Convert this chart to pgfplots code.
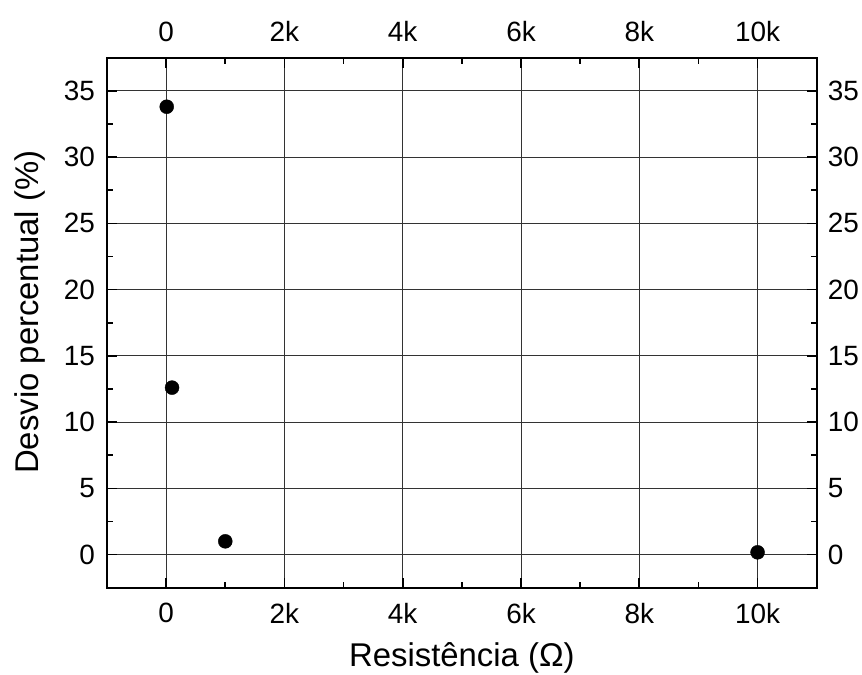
\documentclass[border=0pt]{standalone}
\usepackage{pgfplots}
\pgfplotsset{compat=1.18}
\usepackage{fontspec}
\setmainfont{Liberation Sans}
\begin{document}
\begin{tikzpicture}
\useasboundingbox (-107bp,-87.3bp) rectangle (755bp,587.7bp);
\pgfplotsset{
 common/.style={
  scale only axis, width=709.7bp, height=530bp,
  at={(0,0)}, anchor=south west,
  xmin=-1000, xmax=11000, ymin=-2.5, ymax=37.5,
  xtick={0,2000,4000,6000,8000,10000},
  xticklabels={0,2k,4k,6k,8k,10k},
  ytick={0,5,...,35},
  minor x tick num=1, minor y tick num=1,
  axis line style={line width=1.8bp},
  every tick/.style={black, line width=1.6bp},
  major tick length=10bp, minor tick length=6bp,
  tick label style={font=\fontsize{28}{32}\selectfont, inner sep=0pt},
  /pgf/number format/assume math mode=true,
  scaled x ticks=false,
 }}
\begin{axis}[common,
  xtick pos=both, ytick pos=both,
  xticklabel pos=lower, yticklabel pos=left,
  grid=major, grid style={black!80, line width=0.8bp},
  xticklabel style={anchor=north, yshift=-15bp},
  yticklabel style={anchor=east, xshift=-12bp},
  xlabel={Resistência (Ω)},
  ylabel={Desvio percentual (\%)},
  xlabel style={at={(axis description cs:0.5,-0.149)}, anchor=base, font=\fontsize{33}{38}\selectfont},
  ylabel style={at={(axis description cs:-0.096,0.52)}, anchor=base, font=\fontsize{33}{38}\selectfont},
]
\addplot[only marks, mark=*, mark size=7bp, black] coordinates {
(10,33.8) (100,12.6) (1000,1.0) (10000,0.17)
};
\end{axis}
\begin{axis}[common,
  xtick pos=both, ytick pos=both,
  xticklabel pos=upper, yticklabel pos=right,
  xticklabel style={anchor=south, yshift=16bp},
  yticklabel style={anchor=west, xshift=11bp},
]
\end{axis}
\end{tikzpicture}
\end{document}
